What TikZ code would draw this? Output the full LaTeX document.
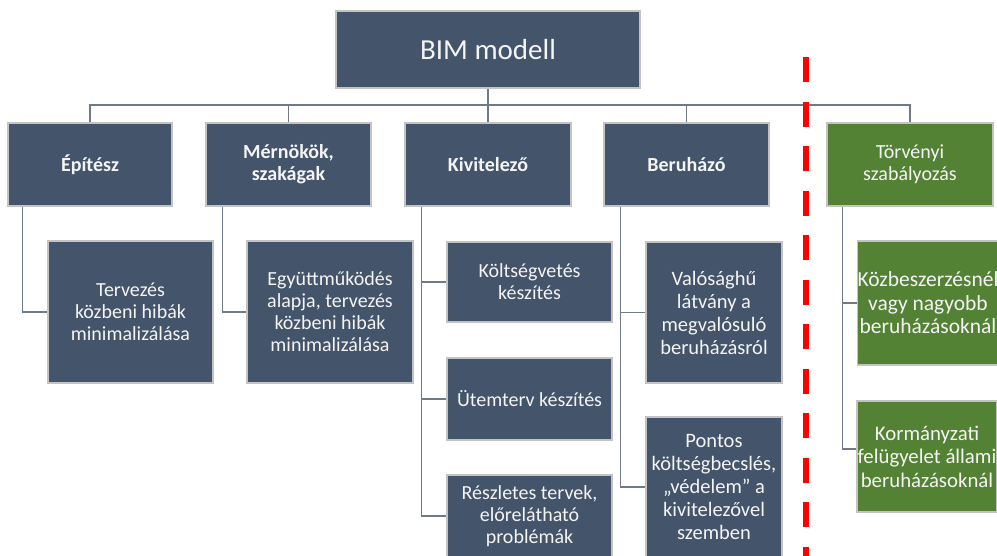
\documentclass[tikz,border=0pt]{standalone}
\usepackage{fontspec}
\setmainfont{Carlito}
\definecolor{boxblue}{HTML}{44546A}
\definecolor{boxgreen}{HTML}{548235}
\definecolor{boxedge}{HTML}{C3C3C3}
\definecolor{linkc}{HTML}{6E7A88}
\definecolor{txt}{HTML}{F4F4F4}
\tikzset{
  box/.style={draw=boxedge, line width=1.4pt, fill=boxblue, text=txt, align=center,
     inner sep=0pt, font=\fontsize{20}{22}\selectfont},
  gbox/.style={box, fill=boxgreen},
  bold/.style={font=\fontsize{20}{22}\selectfont\bfseries},
  link/.style={draw=linkc, line width=1.6pt},
  sep/.style={draw=red, line width=6pt, dash pattern=on 25pt off 19.5pt}
}
\begin{document}
\begin{tikzpicture}[x=1pt,y=-1pt]
\useasboundingbox (0,0) rectangle (997,555);
\clip (0,0) rectangle (997,555);
% top
\node[box, minimum width=304, minimum height=77, font=\fontsize{29}{32}\selectfont] (top) at (488,49.5) {BIM modell};
% level 1
\node[box, bold, minimum width=164, minimum height=83] (A) at (90,164.5) {Építész};
\node[box, bold, minimum width=165, minimum height=83] (M) at (288.5,164.5) {Mérnökök,\\szakágak};
\node[box, bold, minimum width=166, minimum height=83] (K) at (488,164.5) {Kivitelező};
\node[box, bold, minimum width=165, minimum height=83] (B) at (686.5,164.5) {Beruházó};
\node[gbox, minimum width=166, minimum height=83] (T) at (910,164.5) {Törvényi\\szabályozás};
% level 2
\node[box, minimum width=165, minimum height=142] (A2) at (130.5,312) {Tervezés\\közbeni hibák\\minimalizálása};
\node[box, minimum width=166, minimum height=142] (M2) at (330,312) {Együttműködés\\alapja, tervezés\\közbeni hibák\\minimalizálása};
\node[box, minimum width=165, minimum height=80] (K1) at (529.5,282) {Költségvetés\\készítés};
\node[box, minimum width=165, minimum height=82] (K2) at (529.5,399) {Ütemterv készítés};
\node[box, minimum width=165, minimum height=82] (K3) at (529.5,516) {Részletes tervek,\\előrelátható\\problémák};
\node[box, minimum width=136, minimum height=141, font=\fontsize{20.5}{23}\selectfont] (B1) at (714,312.5) {Valósághű\\látvány a\\megvalósuló\\beruházásról};
\node[box, minimum width=136, minimum height=140, font=\fontsize{20.5}{23}\selectfont] (B2) at (714,487) {Pontos\\költségbecslés,\\„védelem” a\\kivitelezővel\\szemben};
\node[gbox, minimum width=140, minimum height=124, font=\fontsize{21.5}{23.5}\selectfont] (G1) at (928,303) {Közbeszerzésnél\\vagy nagyobb\\beruházásoknál};
\node[gbox, minimum width=140, minimum height=111, font=\fontsize{20.8}{23.5}\selectfont] (G2) at (927,456.5) {Kormányzati\\felügyelet állami\\beruházásoknál};
% bus
\coordinate (bus) at (0,105);
\draw[link] (top.south) -- (top.south |- bus);
\draw[link] (A.north) |- (T.north |- bus) -- (T.north);
\draw[link] (M.north) -- (M.north |- bus);
\draw[link] (K.north) -- (K.north |- bus);
\draw[link] (B.north) -- (B.north |- bus);
% level 2 links
\coordinate (ax) at ([xshift=15]A.south west);
\coordinate (mx) at ([xshift=17]M.south west);
\coordinate (kx) at ([xshift=17]K.south west);
\coordinate (bx) at ([xshift=17]B.south west);
\coordinate (tx) at ([xshift=16]T.south west);
\draw[link] (ax) |- (A2.west);
\draw[link] (mx) |- (M2.west);
\draw[link] (kx) |- (K3.west);
\draw[link] (kx |- K1.west) -- (K1.west);
\draw[link] (kx |- K2.west) -- (K2.west);
\draw[link] (bx) |- (B2.west);
\draw[link] (bx |- B1.west) -- (B1.west);
\coordinate (g2in) at ([yshift=7.5]G2.west);
\draw[link] (tx) |- (g2in);
\draw[link] (tx |- G1.west) -- (G1.west);
% separator
\coordinate (s1) at (806,57);
\coordinate (s2) at (806,600);
\draw[sep] (s1) -- (s2);
\end{tikzpicture}
\end{document}
